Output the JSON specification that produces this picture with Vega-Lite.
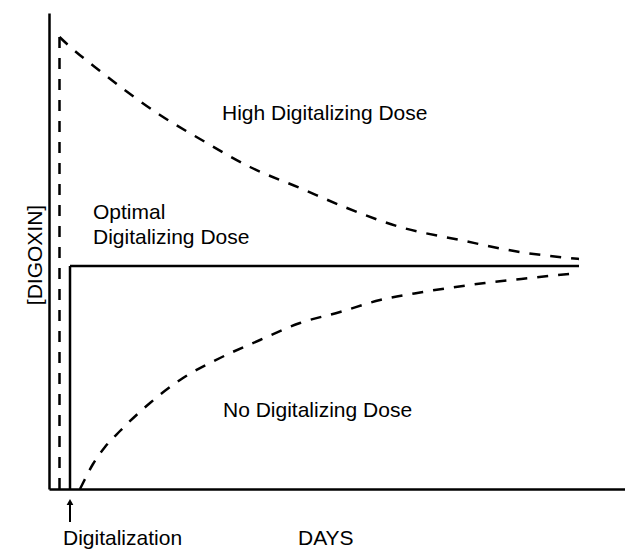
{
  "$schema": "https://vega.github.io/schema/vega-lite/v6.json",
  "width": 576,
  "height": 476,
  "autosize": {"type": "none"},
  "padding": {"left": 49, "top": 13, "right": 0, "bottom": 60},
  "config": {
    "view": {"stroke": null},
    "font": "Liberation Sans",
    "axis": {"domain": true, "domainColor": "#000", "domainWidth": 2.5, "ticks": false, "labels": false, "grid": false, "title": null}
  },
  "datasets": {
    "lines": [
      {"s": "high_v", "k": "straight", "st": "dashed", "o": 0, "x": 10.5, "y": 0},
      {"s": "high_v", "k": "straight", "st": "dashed", "o": 1, "x": 10.5, "y": 452},
      {"s": "high", "k": "curve", "st": "dashed", "o": 0, "x": 10.5, "y": 452},
      {"s": "high", "k": "curve", "st": "dashed", "o": 1, "x": 18, "y": 445},
      {"s": "high", "k": "curve", "st": "dashed", "o": 2, "x": 51, "y": 418},
      {"s": "high", "k": "curve", "st": "dashed", "o": 3, "x": 111, "y": 374},
      {"s": "high", "k": "curve", "st": "dashed", "o": 4, "x": 151, "y": 350},
      {"s": "high", "k": "curve", "st": "dashed", "o": 5, "x": 201, "y": 322},
      {"s": "high", "k": "curve", "st": "dashed", "o": 6, "x": 251, "y": 301},
      {"s": "high", "k": "curve", "st": "dashed", "o": 7, "x": 298, "y": 281},
      {"s": "high", "k": "curve", "st": "dashed", "o": 8, "x": 351, "y": 262},
      {"s": "high", "k": "curve", "st": "dashed", "o": 9, "x": 411, "y": 249},
      {"s": "high", "k": "curve", "st": "dashed", "o": 10, "x": 471, "y": 237},
      {"s": "high", "k": "curve", "st": "dashed", "o": 11, "x": 530, "y": 230},
      {"s": "opt_v", "k": "straight", "st": "solid", "o": 0, "x": 21, "y": 0},
      {"s": "opt_v", "k": "straight", "st": "solid", "o": 1, "x": 21, "y": 223},
      {"s": "opt_h", "k": "straight", "st": "solid", "o": 0, "x": 21, "y": 223},
      {"s": "opt_h", "k": "straight", "st": "solid", "o": 1, "x": 530, "y": 223},
      {"s": "none", "k": "curve", "st": "dashed", "o": 0, "x": 31, "y": 0},
      {"s": "none", "k": "curve", "st": "dashed", "o": 1, "x": 34, "y": 6},
      {"s": "none", "k": "curve", "st": "dashed", "o": 2, "x": 44, "y": 25},
      {"s": "none", "k": "curve", "st": "dashed", "o": 3, "x": 56, "y": 42},
      {"s": "none", "k": "curve", "st": "dashed", "o": 4, "x": 71, "y": 58},
      {"s": "none", "k": "curve", "st": "dashed", "o": 5, "x": 101, "y": 86},
      {"s": "none", "k": "curve", "st": "dashed", "o": 6, "x": 134, "y": 111},
      {"s": "none", "k": "curve", "st": "dashed", "o": 7, "x": 171, "y": 131},
      {"s": "none", "k": "curve", "st": "dashed", "o": 8, "x": 211, "y": 149},
      {"s": "none", "k": "curve", "st": "dashed", "o": 9, "x": 251, "y": 166},
      {"s": "none", "k": "curve", "st": "dashed", "o": 10, "x": 291, "y": 177},
      {"s": "none", "k": "curve", "st": "dashed", "o": 11, "x": 331, "y": 189},
      {"s": "none", "k": "curve", "st": "dashed", "o": 12, "x": 374, "y": 197},
      {"s": "none", "k": "curve", "st": "dashed", "o": 13, "x": 436, "y": 206},
      {"s": "none", "k": "curve", "st": "dashed", "o": 14, "x": 481, "y": 211},
      {"s": "none", "k": "curve", "st": "dashed", "o": 15, "x": 530, "y": 216}
    ],
    "labels": [
      {"text": "High Digitalizing Dose", "x": 173, "y": 369},
      {"text": "Optimal", "x": 44, "y": 270},
      {"text": "Digitalizing Dose", "x": 44, "y": 245},
      {"text": "No Digitalizing Dose", "x": 174, "y": 72},
      {"text": "Digitalization", "x": 14, "y": -56},
      {"text": "DAYS", "x": 249, "y": -56}
    ],
    "ylabel": [{"text": "[DIGOXIN]", "x": -13, "y": 234}],
    "arrow": [{"x": 21, "y": -14, "y2": -33}],
    "arrowhead": [{"x": 21, "y": -13}]
  },
  "layer": [
    {
      "data": {"name": "lines"},
      "transform": [{"filter": "datum.k === 'straight'"}],
      "mark": {"type": "line", "interpolate": "linear", "strokeWidth": 2.5, "color": "#000", "strokeCap": "butt"},
      "encoding": {
        "x": {"field": "x", "type": "quantitative", "scale": {"domain": [0, 576], "nice": false, "zero": false}},
        "y": {"field": "y", "type": "quantitative", "scale": {"domain": [0, 476], "nice": false, "zero": false}},
        "detail": {"field": "s", "type": "nominal"},
        "order": {"field": "o", "type": "quantitative"},
        "strokeDash": {"field": "st", "type": "nominal", "scale": {"domain": ["dashed", "solid"], "range": [[11, 10], [1, 0]]}, "legend": null}
      }
    },
    {
      "data": {"name": "lines"},
      "transform": [{"filter": "datum.k === 'curve'"}],
      "mark": {"type": "line", "interpolate": "monotone", "strokeWidth": 2.5, "color": "#000", "strokeCap": "butt"},
      "encoding": {
        "x": {"field": "x", "type": "quantitative"},
        "y": {"field": "y", "type": "quantitative"},
        "detail": {"field": "s", "type": "nominal"},
        "order": {"field": "o", "type": "quantitative"},
        "strokeDash": {"field": "st", "type": "nominal", "legend": null}
      }
    },
    {
      "data": {"name": "labels"},
      "mark": {"type": "text", "align": "left", "baseline": "alphabetic", "fontSize": 21, "font": "Liberation Sans", "color": "#000"},
      "encoding": {
        "x": {"field": "x", "type": "quantitative"},
        "y": {"field": "y", "type": "quantitative"},
        "text": {"field": "text"}
      }
    },
    {
      "data": {"name": "ylabel"},
      "mark": {"type": "text", "angle": 270, "align": "center", "baseline": "middle", "fontSize": 21, "font": "Liberation Sans", "color": "#000"},
      "encoding": {
        "x": {"field": "x", "type": "quantitative"},
        "y": {"field": "y", "type": "quantitative"},
        "text": {"field": "text"}
      }
    },
    {
      "data": {"name": "arrow"},
      "mark": {"type": "rule", "strokeWidth": 2, "color": "#000"},
      "encoding": {
        "x": {"field": "x", "type": "quantitative"},
        "y": {"field": "y", "type": "quantitative"},
        "y2": {"field": "y2"}
      }
    },
    {
      "data": {"name": "arrowhead"},
      "mark": {"type": "point", "shape": "triangle-up", "filled": true, "size": 45, "color": "#000", "opacity": 1},
      "encoding": {
        "x": {"field": "x", "type": "quantitative"},
        "y": {"field": "y", "type": "quantitative"}
      }
    }
  ]
}
